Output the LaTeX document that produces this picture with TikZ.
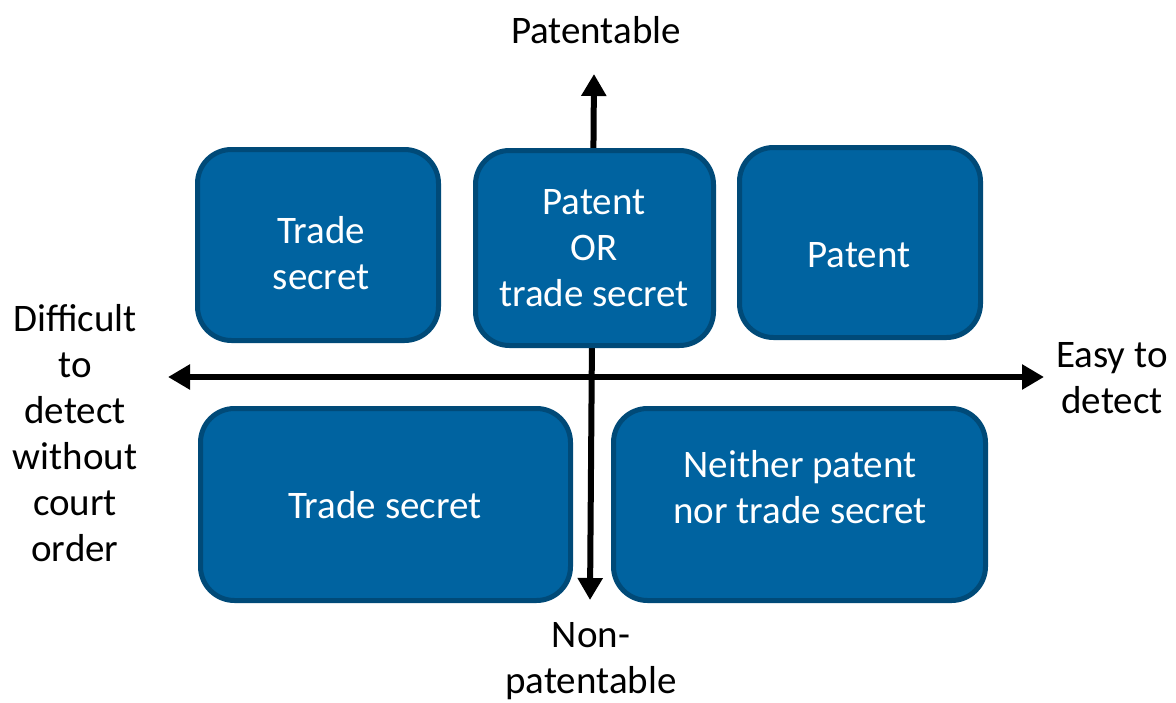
\documentclass[tikz,border=0pt]{standalone}
\usepackage{fontspec}
\setmainfont{Carlito}
\usetikzlibrary{arrows.meta}
\definecolor{boxfill}{RGB}{0,99,160}
\definecolor{boxedge}{RGB}{0,74,120}
\tikzset{
  quad/.style={draw=boxedge, line width=5pt, fill=boxfill, rounded corners=34pt},
  quadtext/.style={text=white, align=center, font=\fontsize{39}{46}\selectfont},
  axislabel/.style={align=center, text=black, font=\fontsize{39}{46}\selectfont},
  axis/.style={line width=6pt, {Triangle[length=22pt,width=24pt]}-{Triangle[length=22pt,width=24pt]}}
}
\begin{document}
\begin{tikzpicture}[x=1pt,y=-1pt]
\useasboundingbox (0,0) rectangle (1176,702);
% axes
\coordinate (up) at (594,74);
\coordinate (down) at (590,600);
\coordinate (leftend) at (168,377);
\coordinate (rightend) at (1044,377);
\draw[axis] (down) -- (up);
\draw[axis] (leftend) -- (rightend);
% quadrant boxes
\node[quad, minimum width=241pt, minimum height=191pt] (tl) at (318,245) {};
\node[quad, minimum width=238pt, minimum height=195pt] (tc) at (594.5,248) {};
\node[quad, minimum width=241pt, minimum height=190pt] (tr) at (860,242.5) {};
\node[quad, minimum width=370pt, minimum height=192pt] (bl) at (385.5,504.5) {};
\node[quad, minimum width=372pt, minimum height=192pt] (br) at (799.5,504.5) {};
% box texts
\node[quadtext] (tltext) at (321,253) {Trade\\secret};
\node[quadtext] (tctext) at (594,248) {Patent\\OR\\trade secret};
\node[quadtext] (trtext) at (859,255) {Patent};
\node[quadtext] (bltext) at (385,505) {Trade secret};
\node[quadtext] (brtext) at (800,487) {Neither patent\\nor trade secret};
% axis labels
\node[axislabel] (patentable) at (596,30) {Patentable};
\node[axislabel] (nonpat) at (591,661) {Non-\\patentable};
\node[axislabel] (difficult) at (75,433) {Difficult\\to\\detect\\without\\court\\order};
\node[axislabel] (easy) at (1112,378) {Easy to\\detect};
\end{tikzpicture}
\end{document}
